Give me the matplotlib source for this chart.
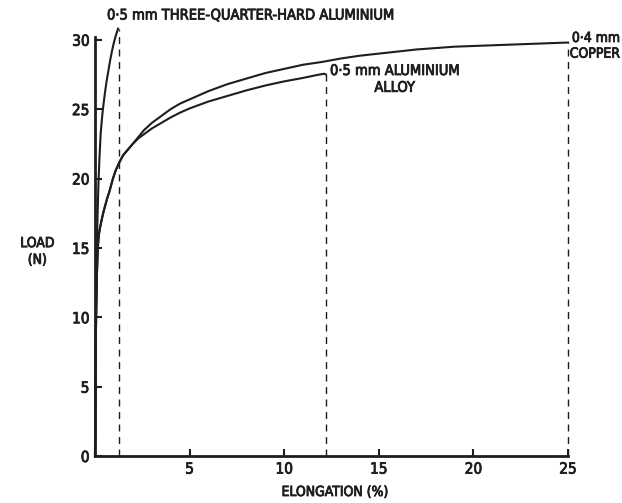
import matplotlib
matplotlib.use("Agg")
import matplotlib.pyplot as plt
import matplotlib.patheffects as pe

# Data
hard_x = [0, 0.02, 0.05, 0.09, 0.13, 0.18, 0.24, 0.30, 0.36, 0.42, 0.50, 0.60, 0.70, 0.80, 0.90, 1.00, 1.10, 1.22]
hard_y = [0, 5.0, 10.0, 14.0, 17.0, 19.5, 21.6, 23.2, 24.2, 25.0, 25.9, 26.9, 27.7, 28.5, 29.2, 29.8, 30.3, 30.8]

common_x = [0, 0.02, 0.05, 0.10, 0.15, 0.20, 0.26, 0.35, 0.45, 0.55, 0.65, 0.75, 0.85, 0.95, 1.10, 1.30, 1.50, 1.75, 2.00]
common_y = [0, 4.0, 9.0, 13.0, 15.0, 15.9, 16.4, 17.0, 17.6, 18.1, 18.6, 19.0, 19.5, 20.0, 20.6, 21.2, 21.7, 22.1, 22.5]

copper_x = common_x + [2.3, 2.6, 3.0, 3.5, 4.0, 4.5, 5.0, 5.5, 6.0, 7.0, 8.0, 9.0, 10, 11, 12, 13, 14, 15,
                       16, 17, 18, 19, 20, 21, 22, 23, 24, 25]
copper_y = common_y + [23.0, 23.5, 24.0, 24.5, 25.0, 25.4, 25.7, 26.0, 26.3, 26.8, 27.2, 27.6, 27.9, 28.2,
                       28.4, 28.65, 28.85, 29.0, 29.15, 29.3, 29.4, 29.5, 29.55, 29.6, 29.65, 29.7, 29.75, 29.8]

alloy_x = common_x + [2.3, 2.6, 3.0, 3.5, 4.0, 4.5, 5.0, 5.5, 6.0, 7.0, 8.0, 9.0, 10, 11, 11.7, 12.1, 12.2]
alloy_y = common_y + [22.9, 23.2, 23.6, 24.0, 24.4, 24.75, 25.05, 25.3, 25.55, 25.95, 26.35, 26.7, 27.0,
                      27.25, 27.45, 27.55, 27.5]

breaks_x = [1.27, 12.2, 25.0]
breaks_y = [30.8, 27.55, 29.8]

xticks = [5, 10, 15, 20, 25]
yticks = [0, 5, 10, 15, 20, 25, 30]

ink = "#1e1e1e"
THICK = [pe.withStroke(linewidth=0.6, foreground=ink)]
FONT = dict(family="DejaVu Sans", stretch="condensed", path_effects=THICK)

fig = plt.figure(figsize=(6.22, 5.03), dpi=100)
ax = fig.add_axes([0.1527, 0.0934, 0.7605, 0.8331])
ax.set_xlim(0, 25)
ax.set_ylim(0, 30.2)

for xs, ys in [(hard_x, hard_y), (copper_x, copper_y), (alloy_x, alloy_y)]:
    ax.plot(xs, ys, color=ink, lw=1.5, clip_on=False, solid_joinstyle="round")

for bx, by in zip(breaks_x, breaks_y):
    ax.plot([bx, bx], [0, by], color=ink, lw=1.0, ls=(0, (5, 4)), clip_on=False)

for s in ["top", "right"]:
    ax.spines[s].set_visible(False)
for s in ["left", "bottom"]:
    ax.spines[s].set_linewidth(2.0)
    ax.spines[s].set_color(ink)

ax.set_xticks(xticks)
ax.set_yticks(yticks)
ax.tick_params(direction="in", length=5, width=1.5, color=ink, labelcolor=ink, labelsize=11, pad=4)
for lab in ax.get_xticklabels() + ax.get_yticklabels():
    lab.set_fontstretch("condensed")
    lab.set_path_effects(THICK)

fig.text(335 / 622, 1 - 492 / 503, "ELONGATION (%)", fontsize=10, color=ink,
         ha="center", va="center", **FONT)
fig.text(0.06, 0.5, "LOAD\n(N)", ha="center", va="center", fontsize=10, color=ink,
         linespacing=1.25, **FONT)

fig.text(107 / 622, 1 - 15 / 503, "0·5 mm THREE-QUARTER-HARD ALUMINIUM", fontsize=10.5, color=ink,
         ha="left", va="center", **FONT)
fig.text(330 / 622, 1 - 63 / 503, "0·5 mm ALUMINIUM\nALLOY", fontsize=10.5, color=ink,
         ha="left", va="top", multialignment="center", linespacing=1.15, **FONT)
fig.text(620 / 622, 1 - 31 / 503, "0·4 mm\nCOPPER", fontsize=10, color=ink,
         ha="right", va="top", multialignment="right", linespacing=1.15, **FONT)

fig.savefig("out.png", dpi=100)
